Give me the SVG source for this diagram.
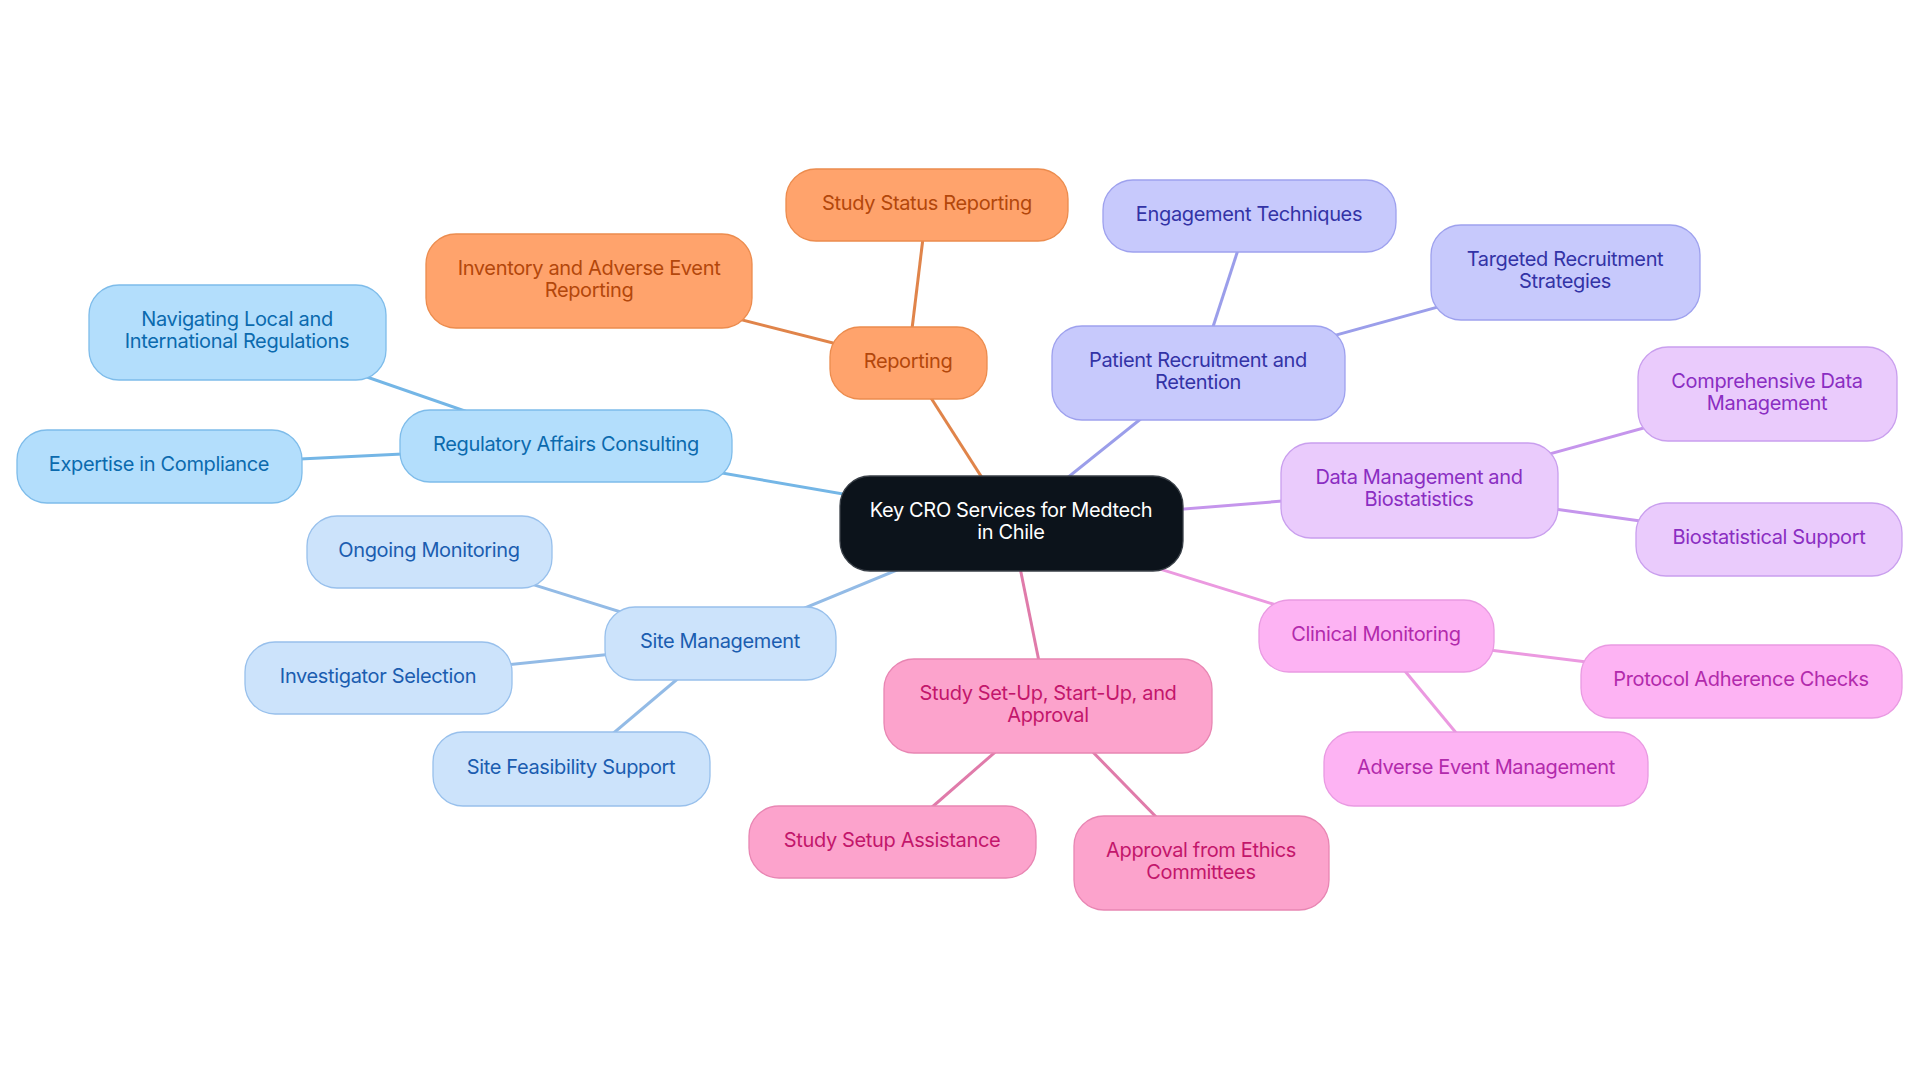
<svg xmlns="http://www.w3.org/2000/svg" width="1920" height="1083" viewBox="0 0 1920 1083">
<style>
text{font-family:Inter,"Noto Sans",sans-serif;font-size:20px;text-anchor:middle;dominant-baseline:central;letter-spacing:-0.35px}
.c line{stroke-width:3;fill:none}
rect{stroke-width:1.3}
.or rect{fill:#FFA36C;stroke:#EC8C4E}.or text{fill:#B3470B}
.rg rect{fill:#B3DEFC;stroke:#7EBCEA}.rg text{fill:#0B6AAE}
.st rect{fill:#CCE3FB;stroke:#98C0EC}.st text{fill:#1B5DB0}
.pt rect{fill:#C7C9FC;stroke:#9EA1EE}.pt text{fill:#3333A6}
.dm rect{fill:#EACBFC;stroke:#C99FEE}.dm text{fill:#8A2EC2}
.cm rect{fill:#FDB3F3;stroke:#E99AE2}.cm text{fill:#B22AAC}
.ss rect{fill:#FCA3CC;stroke:#E886B3}.ss text{fill:#C3166B}
</style>
<rect width="1920" height="1083" fill="#ffffff" stroke="none"/>
<g class="c" id="connectors">
<line x1="1011" y1="523" x2="908" y2="362" stroke="#E0844A"/>
<line x1="908" y1="362" x2="927" y2="205" stroke="#E0844A"/>
<line x1="908" y1="362" x2="589" y2="281" stroke="#E0844A"/>
<line x1="1011" y1="523" x2="566" y2="446" stroke="#74B6E6"/>
<line x1="566" y1="446" x2="237" y2="332" stroke="#74B6E6"/>
<line x1="566" y1="446" x2="159" y2="466" stroke="#74B6E6"/>
<line x1="1011" y1="523" x2="720" y2="643" stroke="#93BBE6"/>
<line x1="720" y1="643" x2="429" y2="552" stroke="#93BBE6"/>
<line x1="720" y1="643" x2="378" y2="678" stroke="#93BBE6"/>
<line x1="720" y1="643" x2="571" y2="769" stroke="#93BBE6"/>
<line x1="1011" y1="523" x2="1048" y2="706" stroke="#E07BAA"/>
<line x1="1048" y1="706" x2="892" y2="842" stroke="#E07BAA"/>
<line x1="1048" y1="706" x2="1201" y2="863" stroke="#E07BAA"/>
<line x1="1011" y1="523" x2="1376" y2="636" stroke="#EB99E0"/>
<line x1="1376" y1="636" x2="1741" y2="681" stroke="#EB99E0"/>
<line x1="1376" y1="636" x2="1486" y2="769" stroke="#EB99E0"/>
<line x1="1011" y1="523" x2="1419" y2="490" stroke="#C595EC"/>
<line x1="1419" y1="490" x2="1767" y2="394" stroke="#C595EC"/>
<line x1="1419" y1="490" x2="1769" y2="539" stroke="#C595EC"/>
<line x1="1011" y1="523" x2="1198" y2="373" stroke="#9B9EEA"/>
<line x1="1198" y1="373" x2="1249" y2="216" stroke="#9B9EEA"/>
<line x1="1198" y1="373" x2="1565" y2="272" stroke="#9B9EEA"/>
</g>
<g id="center"><rect x="840" y="476" width="343" height="95" rx="30" fill="#0C131B" stroke="#3A4048"/><text x="1011" y="510" fill="#ffffff">Key CRO Services for Medtech</text><text x="1011" y="532" fill="#ffffff">in Chile</text></g>
<g id="reporting" class="or"><rect x="830" y="327" width="157" height="72" rx="30"/><text x="908" y="361">Reporting</text></g>
<g id="study-status" class="or"><rect x="786" y="169" width="282" height="72" rx="30"/><text x="927" y="203">Study Status Reporting</text></g>
<g id="inventory" class="or"><rect x="426" y="234" width="326" height="94" rx="30"/><text x="589" y="268">Inventory and Adverse Event</text><text x="589" y="290">Reporting</text></g>
<g id="regulatory" class="rg"><rect x="400" y="410" width="332" height="72" rx="30"/><text x="566" y="444">Regulatory Affairs Consulting</text></g>
<g id="navigating" class="rg"><rect x="89" y="285" width="297" height="95" rx="30"/><text x="237" y="319">Navigating Local and</text><text x="237" y="341">International Regulations</text></g>
<g id="expertise" class="rg"><rect x="17" y="430" width="285" height="73" rx="30"/><text x="159" y="464">Expertise in Compliance</text></g>
<g id="site" class="st"><rect x="605" y="607" width="231" height="73" rx="30"/><text x="720" y="641">Site Management</text></g>
<g id="ongoing" class="st"><rect x="307" y="516" width="245" height="72" rx="30"/><text x="429" y="550">Ongoing Monitoring</text></g>
<g id="investigator" class="st"><rect x="245" y="642" width="267" height="72" rx="30"/><text x="378" y="676">Investigator Selection</text></g>
<g id="feasibility" class="st"><rect x="433" y="732" width="277" height="74" rx="30"/><text x="571" y="767">Site Feasibility Support</text></g>
<g id="study-setup" class="ss"><rect x="884" y="659" width="328" height="94" rx="30"/><text x="1048" y="693">Study Set-Up, Start-Up, and</text><text x="1048" y="715">Approval</text></g>
<g id="setup-assist" class="ss"><rect x="749" y="806" width="287" height="72" rx="30"/><text x="892" y="840">Study Setup Assistance</text></g>
<g id="ethics" class="ss"><rect x="1074" y="816" width="255" height="94" rx="30"/><text x="1201" y="850">Approval from Ethics</text><text x="1201" y="872">Committees</text></g>
<g id="clinical" class="cm"><rect x="1259" y="600" width="235" height="72" rx="30"/><text x="1376" y="634">Clinical Monitoring</text></g>
<g id="protocol" class="cm"><rect x="1581" y="645" width="321" height="73" rx="30"/><text x="1741" y="679">Protocol Adherence Checks</text></g>
<g id="adverse" class="cm"><rect x="1324" y="732" width="324" height="74" rx="30"/><text x="1486" y="767">Adverse Event Management</text></g>
<g id="data" class="dm"><rect x="1281" y="443" width="277" height="95" rx="30"/><text x="1419" y="477">Data Management and</text><text x="1419" y="499">Biostatistics</text></g>
<g id="comprehensive" class="dm"><rect x="1638" y="347" width="259" height="94" rx="30"/><text x="1767" y="381">Comprehensive Data</text><text x="1767" y="403">Management</text></g>
<g id="biostat" class="dm"><rect x="1636" y="503" width="266" height="73" rx="30"/><text x="1769" y="537">Biostatistical Support</text></g>
<g id="patient" class="pt"><rect x="1052" y="326" width="293" height="94" rx="30"/><text x="1198" y="360">Patient Recruitment and</text><text x="1198" y="382">Retention</text></g>
<g id="engagement" class="pt"><rect x="1103" y="180" width="293" height="72" rx="30"/><text x="1249" y="214">Engagement Techniques</text></g>
<g id="targeted" class="pt"><rect x="1431" y="225" width="269" height="95" rx="30"/><text x="1565" y="259">Targeted Recruitment</text><text x="1565" y="281">Strategies</text></g>
</svg>
